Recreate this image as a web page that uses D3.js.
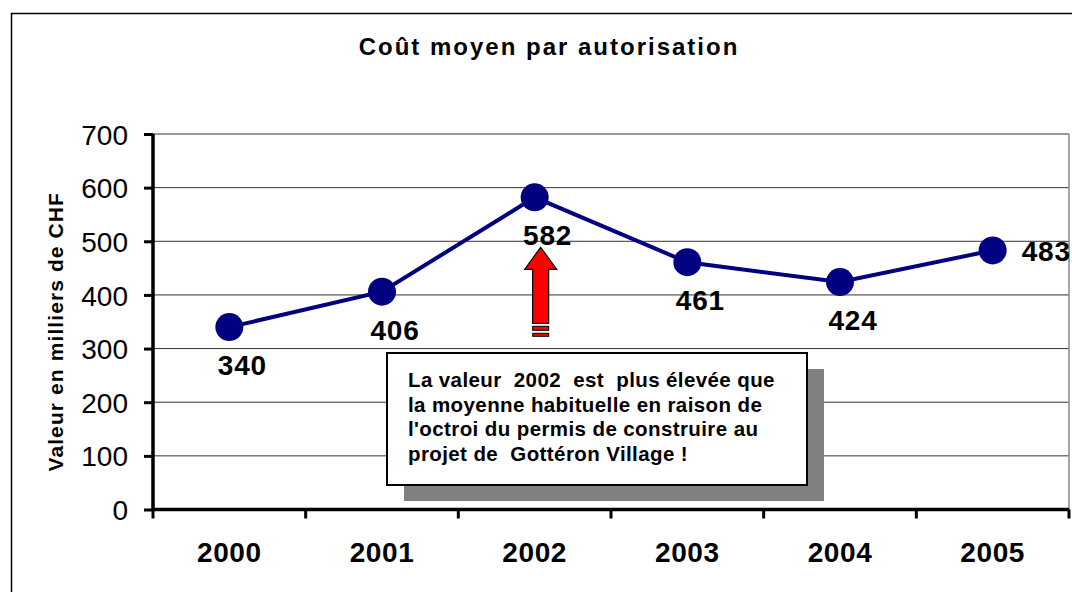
<!DOCTYPE html>
<html>
<head>
<meta charset="utf-8">
<script src="https://cdn.jsdelivr.net/npm/d3@7"></script>
<style>
  html, body { margin: 0; padding: 0; background: #fff; }
  svg { display: block; font-family: Arial, "Liberation Sans", sans-serif; }
</style>
</head>
<body>
<svg id="chart" width="1072" height="592"></svg>
<script>
// ---- data ----
const categories = ["2000", "2001", "2002", "2003", "2004", "2005"];
const values = [340, 406, 582, 461, 424, 483];
const labelPlacement = ["below", "below", "below", "below", "below", "right"];
const yTicks = [0, 100, 200, 300, 400, 500, 600, 700];
const title = "Coût moyen par autorisation";
const yTitle = "Valeur en milliers de CHF";
const noteLines = [
  "La valeur  2002  est  plus élevée que",
  "la moyenne habituelle en raison de",
  "l'octroi du permis de construire au",
  "projet de  Gottéron Village !"
];

// ---- layout ----
const svg = d3.select("#chart");
const plot = { left: 153, right: 1069, top: 134, bottom: 509.5 };

const x = d3.scaleBand().domain(categories).range([plot.left, plot.right]).padding(0);
const y = d3.scaleLinear().domain([0, 700]).range([plot.bottom, plot.top]);
const cx = d => x(d) + x.bandwidth() / 2;

// outer frame
svg.append("rect")
  .attr("x", 11.5).attr("y", 13.5)
  .attr("width", 1100).attr("height", 600)
  .attr("fill", "none").attr("stroke", "#000").attr("stroke-width", 1.5);

// title
svg.append("text")
  .attr("x", 549).attr("y", 55)
  .attr("text-anchor", "middle")
  .attr("font-size", 24).attr("font-weight", "bold")
  .attr("letter-spacing", 2)
  .text(title);

// gridlines
svg.append("g").selectAll("line")
  .data(yTicks.filter(t => t > 0))
  .join("line")
  .attr("x1", plot.left).attr("x2", plot.right)
  .attr("y1", d => y(d)).attr("y2", d => y(d))
  .attr("stroke", "#333").attr("stroke-width", 1);

// plot right border
svg.append("line")
  .attr("x1", plot.right).attr("x2", plot.right)
  .attr("y1", plot.top).attr("y2", plot.bottom)
  .attr("stroke", "#888").attr("stroke-width", 1.5);

// y axis
const yAxis = d3.axisLeft(y).tickValues(yTicks).tickSize(9).tickPadding(16).tickFormat(d3.format("d"));
const gy = svg.append("g").attr("transform", `translate(${plot.left},0)`).call(yAxis);
gy.select(".domain").attr("stroke", "#000").attr("stroke-width", 3.5).attr("d", `M0,${plot.top}V${plot.bottom}`);
gy.selectAll(".tick line").attr("stroke", "#000").attr("stroke-width", 3);
gy.selectAll(".tick text")
  .attr("font-size", 28).attr("font-family", "Arial, 'Liberation Sans', sans-serif")
  .attr("fill", "#000").attr("dy", "0.36em");

// x axis
const xAxis = d3.axisBottom(x).tickSize(0).tickPadding(33);
const gx = svg.append("g").attr("transform", `translate(0,${plot.bottom})`).call(xAxis);
gx.select(".domain").attr("stroke", "#000").attr("stroke-width", 3.5).attr("d", `M${plot.left},0H${plot.right}`);
gx.selectAll(".tick text")
  .attr("font-size", 28).attr("font-weight", "bold").attr("letter-spacing", 0.6)
  .attr("font-family", "Arial, 'Liberation Sans', sans-serif").attr("fill", "#000");
// boundary tick marks
const bounds = categories.map(c => x(c)).concat([plot.right]);
gx.append("g").selectAll("line").data(bounds).join("line")
  .attr("x1", d => d).attr("x2", d => d).attr("y1", 0).attr("y2", 9)
  .attr("stroke", "#000").attr("stroke-width", 3);

// y title
svg.append("text")
  .attr("transform", `translate(63,${(plot.top + plot.bottom) / 2 + 10}) rotate(-90)`)
  .attr("text-anchor", "middle")
  .attr("font-size", 21).attr("font-weight", "bold").attr("letter-spacing", 1.1)
  .text(yTitle);

// line
const line = d3.line().x((d, i) => cx(categories[i])).y(d => y(d));
svg.append("path").datum(values)
  .attr("d", line).attr("fill", "none")
  .attr("stroke", "#000080").attr("stroke-width", 4);

// markers
svg.append("g").selectAll("circle").data(values).join("circle")
  .attr("cx", (d, i) => cx(categories[i])).attr("cy", d => y(d))
  .attr("r", 14).attr("fill", "#000080");

// data labels
svg.append("g").selectAll("text").data(values).join("text")
  .attr("x", (d, i) => labelPlacement[i] === "right" ? cx(categories[i]) + 29 : cx(categories[i]) + 13)
  .attr("y", (d, i) => labelPlacement[i] === "right" ? y(d) + 11 : y(d) + 48)
  .attr("text-anchor", (d, i) => labelPlacement[i] === "right" ? "start" : "middle")
  .attr("font-size", 28).attr("font-weight", "bold").attr("letter-spacing", 0.8)
  .text(d => d);

// arrow annotation (2002)
const ax = cx("2002") + 6, ay = y(values[2]) + 50;
const arrow = svg.append("g").attr("transform", `translate(${ax},${ay})`);
arrow.append("path")
  .attr("d", "M0,0 L16,22 L8,22 L8,76 L-8,76 L-8,22 L-16,22 Z")
  .attr("fill", "#ff0000").attr("stroke", "#000").attr("stroke-width", 1.2);
arrow.append("rect").attr("x", -8).attr("y", 79).attr("width", 16).attr("height", 4)
  .attr("fill", "#ff0000").attr("stroke", "#000").attr("stroke-width", 1);
arrow.append("rect").attr("x", -8).attr("y", 86).attr("width", 16).attr("height", 3)
  .attr("fill", "#ff0000").attr("stroke", "#000").attr("stroke-width", 1);

// note box
const box = { x: 387, y: 353, w: 420, h: 132 };
svg.append("rect")
  .attr("x", box.x + 17).attr("y", box.y + 16).attr("width", box.w).attr("height", box.h)
  .attr("fill", "#808080");
svg.append("rect")
  .attr("x", box.x).attr("y", box.y).attr("width", box.w).attr("height", box.h)
  .attr("fill", "#fff").attr("stroke", "#000").attr("stroke-width", 2);
svg.append("g").selectAll("text").data(noteLines).join("text")
  .attr("x", box.x + 21).attr("y", (d, i) => box.y + 34 + i * 24.7)
  .attr("font-size", 20.5).attr("font-weight", "bold").attr("letter-spacing", 0.4)
  .attr("xml:space", "preserve").style("white-space", "pre")
  .text(d => d);
</script>
</body>
</html>
